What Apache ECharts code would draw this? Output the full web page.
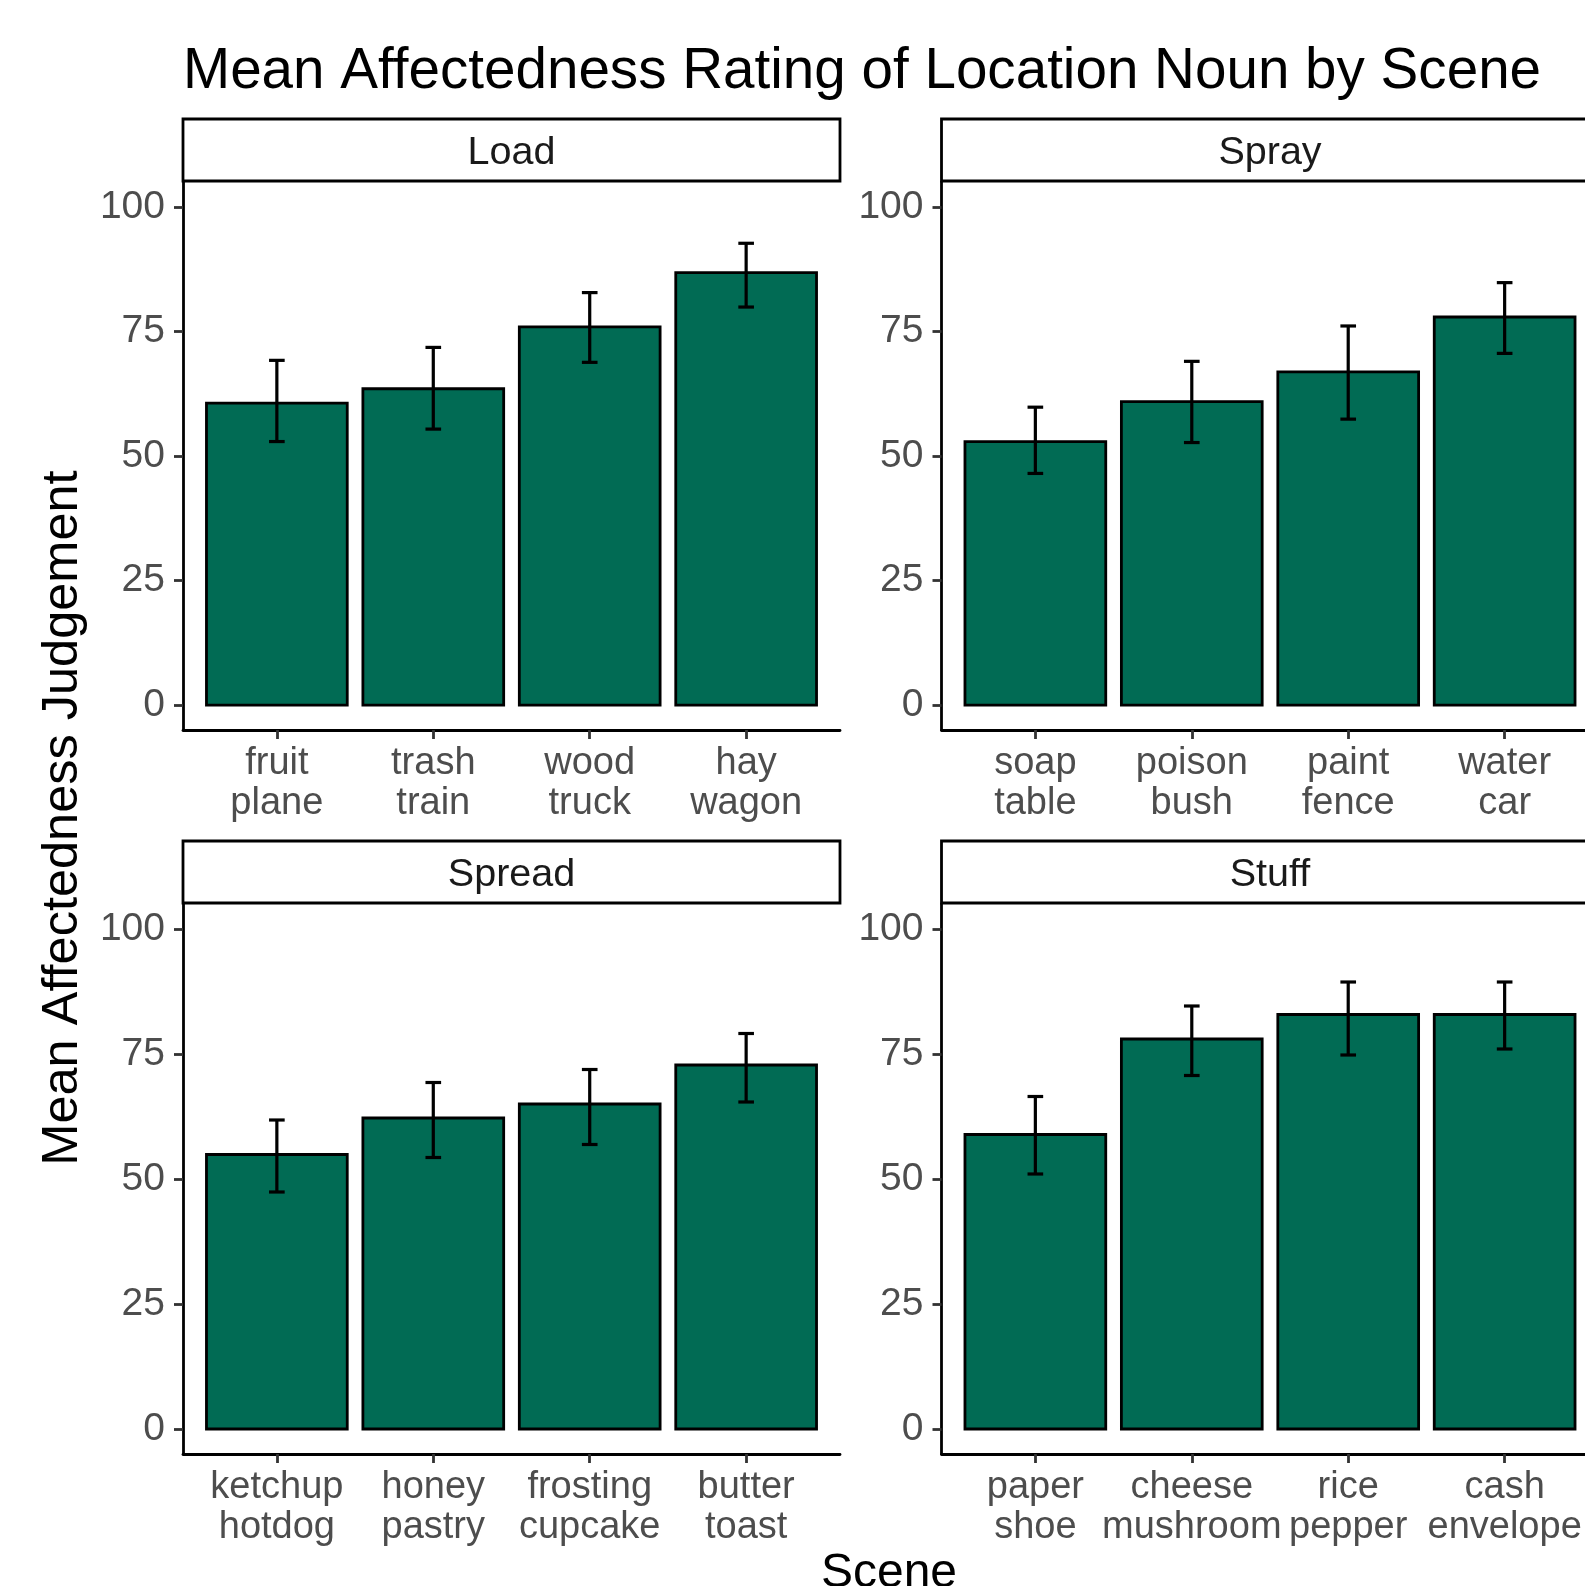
<!DOCTYPE html>
<html>
<head>
<meta charset="utf-8">
<title>Mean Affectedness Rating of Location Noun by Scene</title>
<script src="https://cdn.jsdelivr.net/npm/echarts@6/dist/echarts.min.js"></script>
<style>
    html, body { margin: 0; padding: 0; background: #fff; }
    #chart { width: 1585px; height: 1586px; }
</style>
</head>
<body>
<div id="chart"></div>
<script>
    // facet order: Load, Spray, Spread, Stuff
    var scenes = ['Load', 'Spray', 'Spread', 'Stuff'];

    var loadItems   = ['fruit\nplane', 'trash\ntrain', 'wood\ntruck', 'hay\nwagon'];
    var sprayItems  = ['soap\ntable', 'poison\nbush', 'paint\nfence', 'water\ncar'];
    var spreadItems = ['ketchup\nhotdog', 'honey\npastry', 'frosting\ncupcake', 'butter\ntoast'];
    var stuffItems  = ['paper\nshoe', 'cheese\nmushroom', 'rice\npepper', 'cash\nenvelope'];

    var loadMean   = [60.6, 63.5, 75.9, 86.8];
    var loadLow    = [52.9, 55.4, 68.8, 79.9];
    var loadHigh   = [69.2, 71.8, 82.8, 92.7];

    var sprayMean  = [52.9, 60.9, 66.9, 77.9];
    var sprayLow   = [46.5, 52.7, 57.4, 70.6];
    var sprayHigh  = [59.8, 69.0, 76.1, 84.8];

    var spreadMean = [54.9, 62.2, 65.0, 72.8];
    var spreadLow  = [47.4, 54.3, 56.9, 65.4];
    var spreadHigh = [61.8, 69.3, 71.9, 79.1];

    var stuffMean  = [58.9, 78.0, 82.9, 82.9];
    var stuffLow   = [51.0, 70.7, 74.8, 76.0];
    var stuffHigh  = [66.5, 84.6, 89.4, 89.4];

    var yTicks = [0, 25, 50, 75, 100];

    var items = [loadItems, sprayItems, spreadItems, stuffItems];
    var means = [loadMean, sprayMean, spreadMean, stuffMean];
    var lows  = [loadLow, sprayLow, spreadLow, stuffLow];
    var highs = [loadHigh, sprayHigh, spreadHigh, stuffHigh];

    var FONT = '"Liberation Sans", Arial, Helvetica, sans-serif';
    var BAR_FILL = '#016B54';

    // panel boxes (px)
    var panels = [
        { left: 183,   top: 182, width: 657, height: 548 },
        { left: 941.5, top: 182, width: 657, height: 548 },
        { left: 183,   top: 904, width: 657, height: 550 },
        { left: 941.5, top: 904, width: 657, height: 550 }
    ];

    var myChart = echarts.init(document.getElementById('chart'), null, { renderer: 'canvas' });

    var grids = [], xAxes = [], yAxes = [], series = [], graphics = [];

    panels.forEach(function (p, i) {
        grids.push({
            left: p.left, top: p.top, width: p.width, height: p.height,
            containLabel: false,
            outerBoundsMode: 'none'
        });
        var cats = items[i];
        xAxes.push({
            gridIndex: i,
            type: 'value',
            min: 0.4,
            max: 4.6,
            axisLine: { show: true, onZero: false, lineStyle: { color: '#000', width: 2.8 } },
            axisTick: { show: true, length: 9, customValues: [1, 2, 3, 4], lineStyle: { color: '#333', width: 2.8 } },
            axisLabel: {
                customValues: [1, 2, 3, 4],
                margin: 14,
                color: '#4D4D4D',
                fontFamily: FONT,
                fontSize: 38,
                lineHeight: 40,
                align: 'center',
                formatter: function (v) { return cats[Math.round(v) - 1]; }
            },
            splitLine: { show: false }
        });
        yAxes.push({
            gridIndex: i,
            type: 'value',
            min: -5,
            max: 105,
            axisLine: { show: true, onZero: false, lineStyle: { color: '#000', width: 2.8 } },
            axisTick: { show: true, length: 9, customValues: yTicks, lineStyle: { color: '#333', width: 2.8 } },
            axisLabel: {
                customValues: yTicks,
                margin: 18,
                color: '#4D4D4D',
                fontFamily: FONT,
                fontSize: 39
            },
            splitLine: { show: false }
        });

        // bars
        series.push({
            type: 'custom',
            name: scenes[i],
            xAxisIndex: i,
            yAxisIndex: i,
            data: means[i].map(function (m, k) { return [k + 1, m]; }),
            renderItem: function (params, api) {
                var x = api.value(0), v = api.value(1);
                var a = api.coord([x - 0.45, v]);
                var b = api.coord([x + 0.45, 0]);
                return {
                    type: 'rect',
                    shape: { x: a[0], y: a[1], width: b[0] - a[0], height: b[1] - a[1] },
                    style: { fill: BAR_FILL, stroke: '#000', lineWidth: 2.8 }
                };
            }
        });

        // error bars
        series.push({
            type: 'custom',
            name: scenes[i] + ' error',
            xAxisIndex: i,
            yAxisIndex: i,
            z: 3,
            data: lows[i].map(function (lo, k) { return [k + 1, lo, highs[i][k]]; }),
            renderItem: function (params, api) {
                var x = api.value(0);
                var lo = api.coord([x, api.value(1)]);
                var hi = api.coord([x, api.value(2)]);
                var l1 = api.coord([x - 0.05, api.value(1)]);
                var r1 = api.coord([x + 0.05, api.value(1)]);
                var l2 = api.coord([x - 0.05, api.value(2)]);
                var r2 = api.coord([x + 0.05, api.value(2)]);
                var st = { stroke: '#000', lineWidth: 3.2 };
                return {
                    type: 'group',
                    children: [
                        { type: 'line', shape: { x1: lo[0], y1: lo[1], x2: hi[0], y2: hi[1] }, style: st },
                        { type: 'line', shape: { x1: l1[0], y1: l1[1], x2: r1[0], y2: r1[1] }, style: st },
                        { type: 'line', shape: { x1: l2[0], y1: l2[1], x2: r2[0], y2: r2[1] }, style: st }
                    ]
                };
            }
        });

        // facet strip
        graphics.push({
            type: 'rect',
            shape: { x: p.left, y: p.top - 63, width: p.width, height: 62 },
            style: { fill: '#fff', stroke: '#000', lineWidth: 2.8 },
            z: 10
        });
        graphics.push({
            type: 'text',
            x: p.left + p.width / 2,
            y: p.top - 29,
            style: {
                text: scenes[i],
                fill: '#1A1A1A',
                font: '39.5px ' + FONT,
                textAlign: 'center',
                textVerticalAlign: 'middle'
            },
            z: 11
        });
    });

    // titles
    graphics.push({
        type: 'text',
        x: 183,
        y: 72,
        style: {
            text: 'Mean Affectedness Rating of Location Noun by Scene',
            fill: '#000',
            font: '56.6px ' + FONT,
            textAlign: 'left',
            textVerticalAlign: 'middle'
        }
    });
    graphics.push({
        type: 'text',
        x: 889,
        y: 1574,
        style: {
            text: 'Scene',
            fill: '#000',
            font: '48px ' + FONT,
            textAlign: 'center',
            textVerticalAlign: 'middle'
        }
    });
    graphics.push({
        type: 'text',
        x: 63,
        y: 818,
        rotation: Math.PI / 2,
        style: {
            text: 'Mean Affectedness Judgement',
            fill: '#000',
            font: '50.5px ' + FONT,
            textAlign: 'center',
            textVerticalAlign: 'middle'
        }
    });

    var option = {
        backgroundColor: '#fff',
        animation: false,
        grid: grids,
        xAxis: xAxes,
        yAxis: yAxes,
        series: series,
        graphic: { elements: graphics }
    };
    myChart.setOption(option);
</script>
</body>
</html>
